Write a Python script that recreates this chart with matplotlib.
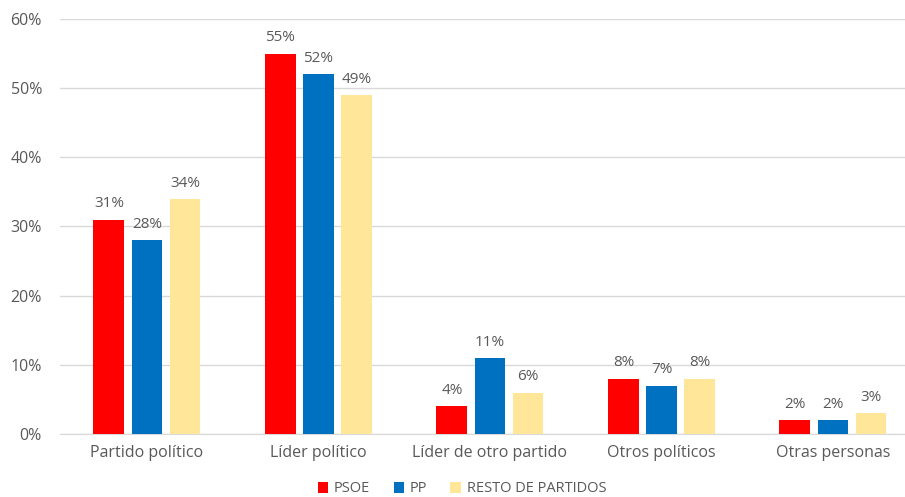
import numpy as np
import matplotlib.pyplot as plt
from matplotlib.ticker import PercentFormatter

# datos
categorias = ["Partido político", "Líder político", "Líder de otro partido",
              "Otros políticos", "Otras personas"]
psoe = [31, 55, 4, 8, 2]
pp = [28, 52, 11, 7, 2]
resto = [34, 49, 6, 8, 3]
series = ["PSOE", "PP", "RESTO DE PARTIDOS"]
colores = ["#FF0000", "#0070C0", "#FFE699"]

plt.rcParams['font.family'] = ['Open Sans', 'DejaVu Sans']
gris = "#595959"

fig = plt.figure(figsize=(9.05, 4.97), dpi=100)
ax = fig.add_axes([60/905, 63/497, 845/905, 415/497])

x = np.arange(len(categorias))
ancho = 0.18
paso = 0.222

for k, (vals, nombre, col) in enumerate(zip([psoe, pp, resto], series, colores)):
    pos = x + (k - 1)*paso
    barras = ax.bar(pos, vals, ancho, color=col, label=nombre, zorder=3)
    for b, v in zip(barras, vals):
        ax.text(b.get_x() + b.get_width()/2, v + 1.2, f"{v}%",
                ha='center', va='bottom', fontsize=11, color=gris)

ax.set_ylim(0, 60)
ax.set_xlim(-0.507, 4.42)
ax.set_yticks(range(0, 61, 10))
ax.yaxis.set_major_formatter(PercentFormatter(decimals=0))
ax.grid(axis='y', color='#D9D9D9', linewidth=1, zorder=0)
ax.set_xticks(x)
ax.set_xticklabels(categorias)
ax.tick_params(axis='both', length=0, colors=gris, labelsize=11.5)
ax.tick_params(axis='x', pad=8)
ax.tick_params(axis='y', pad=13)
for s in ['top', 'right', 'left']:
    ax.spines[s].set_visible(False)
ax.spines['bottom'].set_color('#D9D9D9')

ax.legend(loc='center', bbox_to_anchor=(462/905, 8/497), bbox_transform=fig.transFigure,
          ncol=3, frameon=False, fontsize=10.5, labelcolor=gris,
          handlelength=0.7, handleheight=0.7, handletextpad=0.4, columnspacing=1.6)

fig.savefig("out.png", dpi=100)
